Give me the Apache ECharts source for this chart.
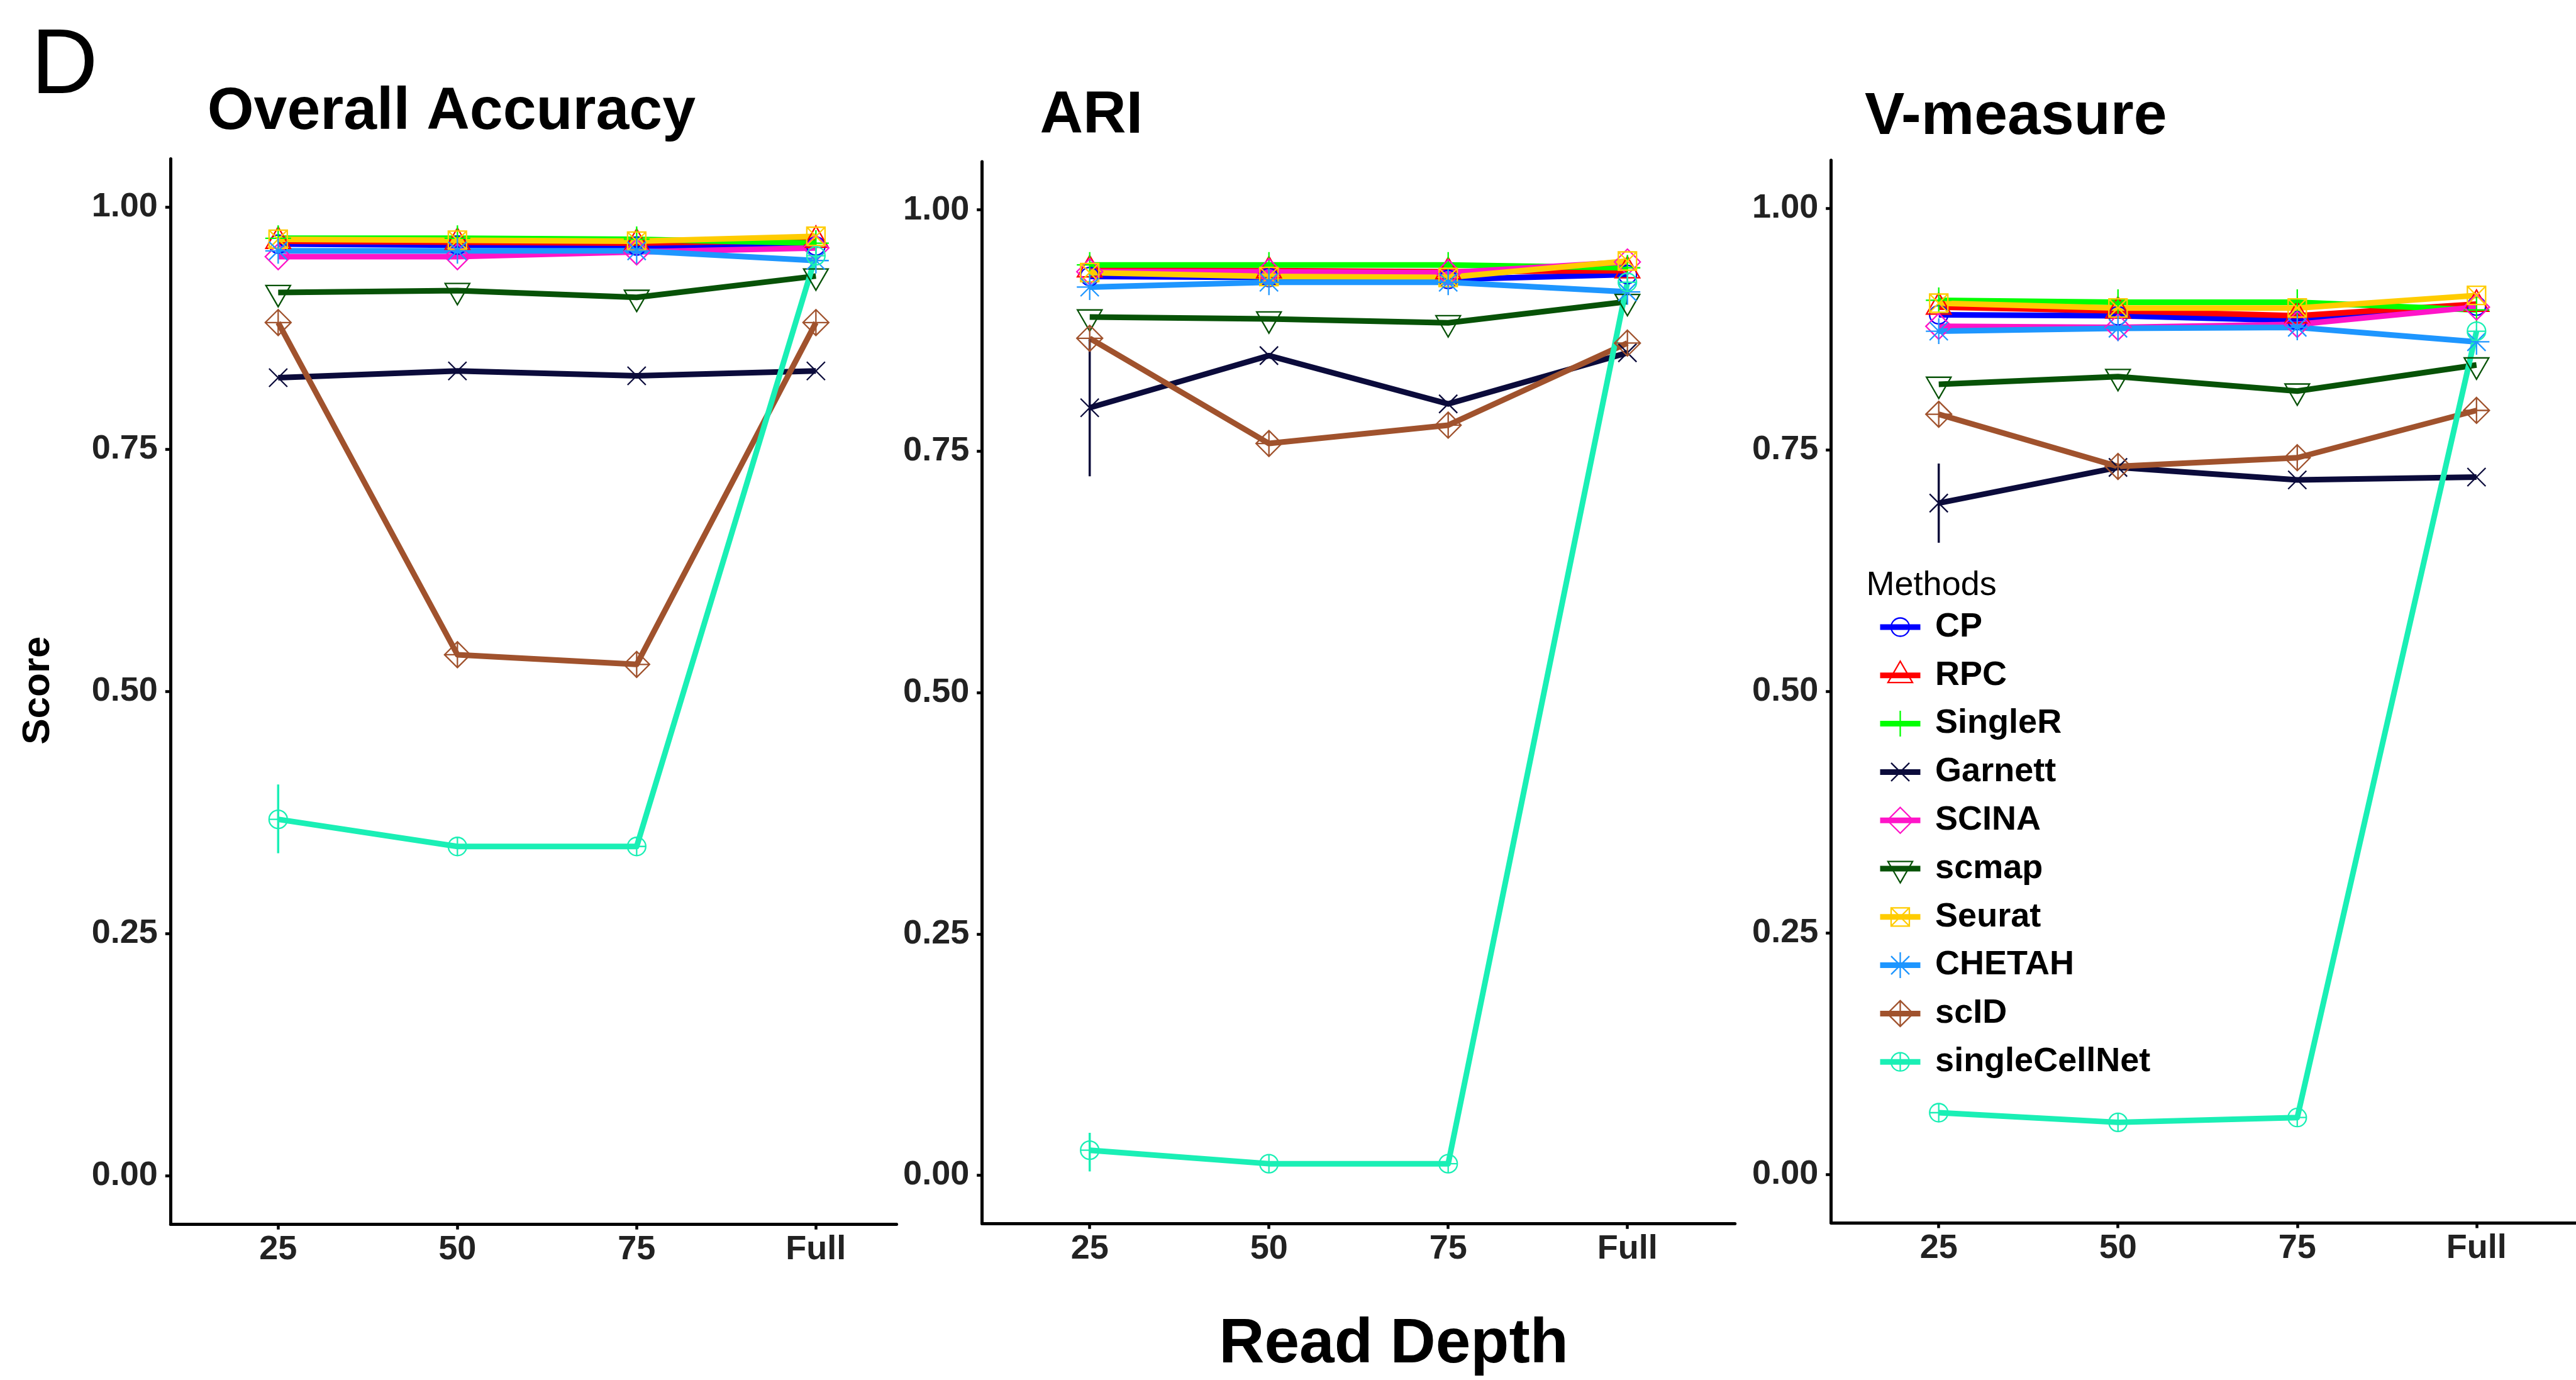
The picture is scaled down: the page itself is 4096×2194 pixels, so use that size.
<!DOCTYPE html>
<html>
<head>
<meta charset="utf-8">
<title>Read Depth</title>
<script src="https://cdn.jsdelivr.net/npm/echarts@6/dist/echarts.min.js"></script>
<style>
  html, body { margin: 0; padding: 0; background: #ffffff; }
  #chart { width: 4096px; height: 2194px; }
</style>
</head>
<body>
<div id="chart"></div>
<script>
// ---------------- data ----------------
const categories = ['25', '50', '75', 'Full'];
const methods = ['CP', 'RPC', 'SingleR', 'Garnett', 'SCINA', 'scmap', 'Seurat', 'CHETAH', 'scID', 'singleCellNet'];
const panelTitles = ['Overall Accuracy', 'ARI', 'V-measure'];
const yTicks = [0, 0.25, 0.5, 0.75, 1];

// mean score per method (rows follow `methods`, columns follow `categories`)
const overallAccuracy = [
  [0.962, 0.961, 0.960, 0.960],  // CP
  [0.965, 0.964, 0.963, 0.966],  // RPC
  [0.968, 0.968, 0.967, 0.963],  // SingleR
  [0.824, 0.831, 0.826, 0.831],  // Garnett
  [0.949, 0.949, 0.954, 0.958],  // SCINA
  [0.912, 0.914, 0.907, 0.929],  // scmap
  [0.967, 0.966, 0.965, 0.970],  // Seurat
  [0.955, 0.955, 0.955, 0.945],  // CHETAH
  [0.881, 0.538, 0.528, 0.881],  // scID
  [0.368, 0.340, 0.340, 0.950]   // singleCellNet
];
const ari = [
  [0.931, 0.930, 0.928, 0.933],
  [0.938, 0.937, 0.936, 0.937],
  [0.943, 0.943, 0.943, 0.940],
  [0.795, 0.849, 0.799, 0.852],
  [0.936, 0.936, 0.935, 0.946],
  [0.889, 0.887, 0.883, 0.905],
  [0.935, 0.931, 0.930, 0.947],
  [0.920, 0.925, 0.925, 0.915],
  [0.867, 0.758, 0.777, 0.862],
  [0.026, 0.012, 0.012, 0.925]
];
const vMeasure = [
  [0.890, 0.889, 0.884, 0.899],
  [0.898, 0.894, 0.889, 0.901],
  [0.905, 0.903, 0.903, 0.895],
  [0.695, 0.732, 0.719, 0.722],
  [0.878, 0.877, 0.880, 0.898],
  [0.818, 0.826, 0.811, 0.838],
  [0.902, 0.897, 0.897, 0.910],
  [0.873, 0.876, 0.877, 0.862],
  [0.787, 0.733, 0.742, 0.791],
  [0.064, 0.054, 0.059, 0.873]
];

// error bars: [method, read depth, lower, upper]
const overallAccuracyErr = [['singleCellNet', '25', 0.333, 0.404]];
const ariErr = [['Garnett', '25', 0.724, 0.867], ['singleCellNet', '25', 0.004, 0.044]];
const vMeasureErr = [['Garnett', '25', 0.654, 0.736]];

// ---------------- styles ----------------
const FONT = "'Liberation Sans', Arial, Helvetica, sans-serif";
const methodColors = ['#0000FF', '#FF0000', '#00FF00', '#0B0B3B', '#FF14C8',
                      '#075207', '#FFCC00', '#1E96FF', '#A0522D', '#1AEFB5'];

// open point shapes in a 100x100 box (the leading moves pin the box so all shapes share one scale)
const BOX = 'M0 0M100 100';
const C = 'M81.25 50A31.25 31.25 0 1 1 18.75 50A31.25 31.25 0 1 1 81.25 50Z';
const PLUS_L = 'M5.8 50L94.2 50M50 5.8L50 94.2';
const PLUS_S = 'M18.75 50L81.25 50M50 18.75L50 81.25';
const CROSS = 'M18.75 18.75L81.25 81.25M81.25 18.75L18.75 81.25';
const DIAMOND = 'M50 5.8L94.2 50L50 94.2L5.8 50Z';
const shapePaths = [
  C,                                                  // circle
  'M50 1.4L92.1 74.3L7.9 74.3Z',                      // triangle
  PLUS_L,                                             // plus
  CROSS,                                              // cross
  DIAMOND,                                            // diamond
  'M50 98.6L92.1 25.7L7.9 25.7Z',                     // down triangle
  'M18.75 18.75L81.25 18.75L81.25 81.25L18.75 81.25Z' + CROSS, // boxed cross
  CROSS + PLUS_L,                                     // asterisk
  DIAMOND + PLUS_L,                                   // diamond plus
  C + PLUS_S                                          // circle plus
].map(p => 'path://' + BOX + p);
const SYMBOL_SIZE = 46.4;
const LINE_W = 9;
const POINT_STROKE = 2.3;

// panel geometry (pixels); one x unit = 285px, x runs from -0.6
const panels = [
  { left: 271.3,  top: 252.6, width: 1154.3, height: 1693.6, xMax: 3.45 },
  { left: 1561.7, top: 256.9, width: 1197.0, height: 1688.4, xMax: 3.6 },
  { left: 2911.7, top: 254.7, width: 1184.3, height: 1689.4, xMax: 3.555 }
];

const metricData = [overallAccuracy, ari, vMeasure];
const metricErr = [overallAccuracyErr, ariErr, vMeasureErr];
const catIdx = categories.map((c, i) => i);

const axisLabelStyle = { fontSize: 54, fontWeight: 'bold', color: '#222222', fontFamily: FONT };

const grid = panels.map(p => ({
  left: p.left, top: p.top, width: p.width, height: p.height,
  containLabel: false, outerBoundsMode: 'none'
}));

const xAxis = panels.map((p, i) => ({
  type: 'value', gridIndex: i, min: -0.6, max: p.xMax,
  axisLine: { show: true, onZero: false, lineStyle: { color: '#000', width: 5 } },
  axisTick: { show: true, customValues: catIdx, length: 8.5, lineStyle: { color: '#000', width: 4.5 } },
  axisLabel: Object.assign({ customValues: catIdx, margin: 13.7, formatter: v => categories[v] }, axisLabelStyle),
  splitLine: { show: false }
}));

const yAxis = panels.map((p, i) => ({
  type: 'value', gridIndex: i, min: -0.05, max: 1.05,
  axisLine: { show: true, onZero: false, lineStyle: { color: '#000', width: 5 } },
  axisTick: { show: true, customValues: yTicks, length: 8.5, lineStyle: { color: '#000', width: 4.5 } },
  axisLabel: Object.assign({ customValues: yTicks, margin: 20.5, formatter: v => v.toFixed(2) }, axisLabelStyle),
  splitLine: { show: false }
}));

const series = [];
// lines (all panels first, so the legend picks them up with their shape)
metricData.forEach((rows, p) => {
  methods.forEach((m, i) => {
    series.push({
      type: 'line', name: m, xAxisIndex: p, yAxisIndex: p,
      data: rows[i].map((v, j) => [j, v]),
      showSymbol: false, symbol: shapePaths[i], symbolSize: SYMBOL_SIZE,
      itemStyle: { color: 'none', borderColor: methodColors[i], borderWidth: POINT_STROKE },
      lineStyle: { color: methodColors[i], width: LINE_W, join: 'round' },
      z: 2, silent: true, animation: false
    });
  });
});
// error bars
metricErr.forEach((errs, p) => {
  series.push({
    type: 'custom', xAxisIndex: p, yAxisIndex: p,
    data: errs.map(e => [categories.indexOf(e[1]), e[2], e[3], methods.indexOf(e[0])]),
    encode: { x: 0, y: [1, 2] },
    renderItem: (params, api) => {
      const x = api.value(0);
      const a = api.coord([x, api.value(1)]);
      const b = api.coord([x, api.value(2)]);
      return {
        type: 'line',
        shape: { x1: a[0], y1: a[1], x2: b[0], y2: b[1] },
        style: { stroke: methodColors[api.value(3)], lineWidth: 3.5 }
      };
    },
    z: 3, silent: true, animation: false
  });
});
// points on top of every line
metricData.forEach((rows, p) => {
  methods.forEach((m, i) => {
    series.push({
      type: 'scatter', name: m, xAxisIndex: p, yAxisIndex: p,
      data: rows[i].map((v, j) => [j, v]),
      symbol: shapePaths[i], symbolSize: SYMBOL_SIZE,
      itemStyle: { color: 'none', borderColor: methodColors[i], borderWidth: POINT_STROKE, opacity: 1 },
      z: 4, silent: true, animation: false
    });
  });
});

// text placed by its middle line, a fixed fraction of the font size above the baseline
function label(text, x, baseline, size, weight, align, extra) {
  return Object.assign({
    type: 'text', x: x, y: baseline - 0.28 * size, silent: true,
    style: { text: text, fontSize: size, fontWeight: weight, fontFamily: FONT,
             fill: '#000', align: align, verticalAlign: 'middle' }
  }, extra || {});
}

const titlePos = [[329.7, 205.2], [1653.5, 211.6], [2965, 213.8]];
const graphic = [
  label('D', 49.5, 149, 147, 'normal', 'left'),
  ...panelTitles.map((t, i) => label(t, titlePos[i][0], titlePos[i][1], 95, 'bold', 'left')),
  label('Read Depth', 2216, 2166, 100, 'bold', 'center'),
  label('Methods', 2967.6, 946.7, 54, 'normal', 'left'),
  {
    type: 'text', x: 61.2, y: 1097.6, rotation: Math.PI / 2, silent: true,
    style: { text: 'Score', fontSize: 62, fontWeight: 'bold', fontFamily: FONT,
             fill: '#000', align: 'center', verticalAlign: 'middle' }
  }
];

const chart = echarts.init(document.getElementById('chart'), null, { renderer: 'canvas' });
chart.setOption({
  animation: false,
  backgroundColor: '#ffffff',
  grid: grid,
  xAxis: xAxis,
  yAxis: yAxis,
  legend: {
    data: methods, orient: 'vertical', left: 2985, top: 970, padding: 0,
    itemWidth: 64, itemHeight: 58, itemGap: 22.8, selectedMode: false,
    textStyle: { fontSize: 54, fontWeight: 'bold', color: '#000', fontFamily: FONT, padding: [0, 0, 0, 18.6] },
    lineStyle: { width: LINE_W },
    itemStyle: { borderWidth: POINT_STROKE }
  },
  graphic: graphic,
  series: series
});
</script>
</body>
</html>
